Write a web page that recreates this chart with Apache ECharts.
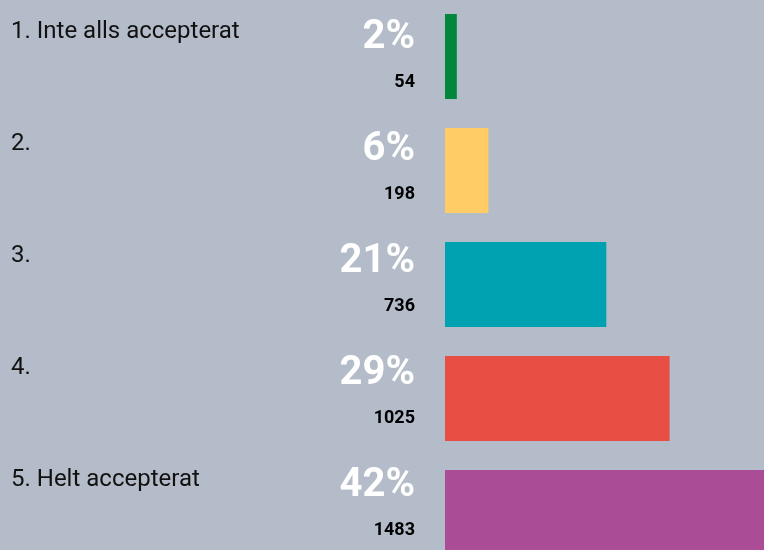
<!DOCTYPE html>
<html>
<head>
<meta charset="utf-8">
<script src="https://cdn.jsdelivr.net/npm/echarts@6/dist/echarts.min.js"></script>
<style>
  html, body { margin: 0; padding: 0; background: #b3bcc8; }
  #chart { width: 764px; height: 550px; }
</style>
</head>
<body>
<div id="chart"></div>
<script>
const categories = ['1. Inte alls accepterat', '2.', '3.', '4.', '5. Helt accepterat']
const counts = [54, 198, 736, 1025, 1483]
const percents = ['2%', '6%', '21%', '29%', '42%']
const colors = ['#00873c', '#ffcc66', '#00a1b1', '#e94e45', '#ab4c96']

const myChart = echarts.init(document.getElementById('chart'))
let option = {
  backgroundColor: '#b3bcc8',
  animation: false,
  grid: [
    // bars
    { left: 445, width: 325, top: -0.5, height: 570, outerBoundsMode: 'none', containLabel: false },
    // texts (slightly tighter row spacing than the bars)
    { left: 445, width: 325, top: 0.4, height: 561, outerBoundsMode: 'none', containLabel: false }
  ],
  xAxis: [
    { type: 'value', gridIndex: 0, min: 0, max: 1483, show: false },
    { type: 'value', gridIndex: 1, min: 0, max: 1483, show: false }
  ],
  yAxis: [
    {
      type: 'category',
      gridIndex: 0,
      inverse: true,
      data: categories,
      show: false
    },
    {
      type: 'category',
      gridIndex: 1,
      inverse: true,
      data: categories,
      axisLine: { show: false },
      axisTick: { show: false },
      axisLabel: {
        align: 'left',
        margin: 434,
        verticalAlign: 'bottom',
        lineHeight: 28,
        padding: [0, 0, 11, 0],
        fontFamily: 'Roboto',
        fontSize: 24,
        color: '#111'
      }
    }
  ],
  series: [
    {
      type: 'bar',
      xAxisIndex: 0,
      yAxisIndex: 0,
      barWidth: 85,
      data: counts.map((v, i) => ({ value: v, itemStyle: { color: colors[i] } }))
    },
    {
      // invisible carrier for the percent / count labels
      type: 'bar',
      xAxisIndex: 1,
      yAxisIndex: 1,
      barWidth: 1,
      itemStyle: { color: 'transparent' },
      data: counts,
      label: {
        show: true,
        position: [-30, -40.5],
        align: 'right',
        verticalAlign: 'top',
        formatter: p => '{p|' + percents[p.dataIndex] + '}\n{c|' + p.value + '}',
        rich: {
          p: {
            fontFamily: 'Roboto',
            fontWeight: 'bold',
            fontSize: 40,
            lineHeight: 44,
            color: '#ffffff',
            align: 'right'
          },
          c: {
            fontFamily: 'Roboto',
            fontWeight: 'bold',
            fontSize: 18,
            lineHeight: 45,
            color: '#000000',
            align: 'right'
          }
        }
      }
    }
  ]
}
myChart.setOption(option)
</script>
</body>
</html>
